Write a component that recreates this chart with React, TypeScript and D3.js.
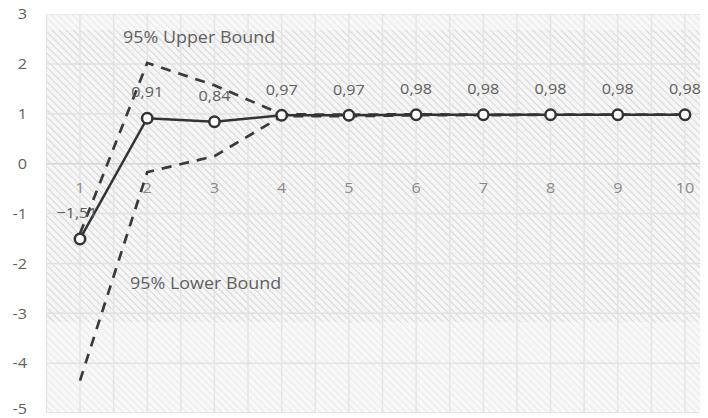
import React from "react";
import * as d3 from "d3";

const categories = [1, 2, 3, 4, 5, 6, 7, 8, 9, 10];
const estimate = [-1.51, 0.91, 0.84, 0.97, 0.97, 0.98, 0.98, 0.98, 0.98, 0.98];
const upperBound = [-1.4, 2.02, 1.57, 0.99, 0.98, 0.99, 0.98, 0.98, 0.98, 0.98];
const lowerBound = [-4.35, -0.17, 0.15, 0.95, 0.95, 0.97, 0.97, 0.98, 0.98, 0.98];
const yTicks = [3, 2, 1, 0, -1, -2, -3, -4, -5];
const upperLabel = "95% Upper Bound";
const lowerLabel = "95% Lower Bound";

const W = 708;
const H = 418;
const plotLeft = 46;
const plotRight = 700;
const font = "'Open Sans', 'Noto Sans', sans-serif";

function T(props: {
  x: number;
  y: number;
  anchor?: "start" | "middle" | "end";
  size?: number;
  fill?: string;
  sx?: number;
  children: React.ReactNode;
}) {
  const { x, y, anchor = "middle", size = 15, fill = "#5f5f5f", sx = 1.08, children } = props;
  return (
    <text
      transform={`translate(${x},${y}) scale(${sx},1)`}
      dy="0.35em"
      textAnchor={anchor}
      fontFamily={font}
      fontSize={size}
      fill={fill}
    >
      {children}
    </text>
  );
}

export default function App() {
  const x = d3.scaleLinear().domain([1, 10]).range([80, 685]);
  const y = d3.scaleLinear().domain([-5, 3]).range([413, 14]);
  const fmt = (v: number) => d3.format(".2f")(v).replace(".", ",");

  const line = d3
    .line<number>()
    .x((_, i) => x(categories[i]))
    .y((d) => y(d));

  const halfSteps = d3.range(0.5, 10.51, 0.5).map((v) => x(v)).filter((px) => px <= plotRight);
  const txt = "#5f5f5f";

  return (
    <svg width={W} height={H} style={{ position: "absolute", left: 0, top: 0, background: "#fff" }}>
      <defs>
        <pattern id="hatch" width="5" height="5" patternUnits="userSpaceOnUse" patternTransform="rotate(-45)">
          <rect width="5" height="5" fill="#f6f6f6" />
          <line x1="0" y1="0" x2="0" y2="5" stroke="#c8c8c8" strokeWidth="1.4" />
        </pattern>
        <pattern id="hatchLight" width="5" height="5" patternUnits="userSpaceOnUse" patternTransform="rotate(-45)">
          <rect width="5" height="5" fill="#f8f8f8" />
          <line x1="0" y1="0" x2="0" y2="5" stroke="#e0e0e0" strokeWidth="1.2" />
        </pattern>
        <clipPath id="plotClip">
          <rect x={plotLeft} y={y(3)} width={plotRight - plotLeft} height={y(-5) - y(3)} />
        </clipPath>
      </defs>

      <rect x={plotLeft} y={y(3)} width={plotRight - plotLeft} height={y(-5) - y(3)} fill="url(#hatch)" />
      <rect x={plotLeft} y={y(3)} width={plotRight - plotLeft} height={16} fill="url(#hatchLight)" />
      <rect x={plotLeft} y={y(-3.18)} width={plotRight - plotLeft} height={y(-5) - y(-3.18)} fill="url(#hatchLight)" />

      <g clipPath="url(#plotClip)">
        {halfSteps.map((px, i) => (
          <line key={"v" + i} x1={px} x2={px} y1={y(3)} y2={y(-5)} stroke="#e4e4e4" strokeWidth={1.5} />
        ))}
        {yTicks.map((t) => (
          <line key={"h" + t} x1={plotLeft} x2={plotRight} y1={y(t)} y2={y(t)} stroke="#e2e2e2" strokeWidth={1.5} />
        ))}
        <line x1={plotLeft} x2={plotRight} y1={y(0)} y2={y(0)} stroke="#d8d8d8" strokeWidth={1.5} />
      </g>

      {yTicks.map((t) => (
        <T key={"yl" + t} x={27} y={t === -5 ? y(t) - 4 : y(t)} anchor="end" fill={txt}>
          {t}
        </T>
      ))}

      {categories.map((c) => (
        <T key={"xl" + c} x={x(c)} y={y(0) + 24} fill="#8a8a8a">
          {c}
        </T>
      ))}

      <path d={line(upperBound) || ""} fill="none" stroke="#3a3a3a" strokeWidth={2.7} strokeDasharray="10 8" />
      <path d={line(lowerBound) || ""} fill="none" stroke="#3a3a3a" strokeWidth={2.7} strokeDasharray="10 8" />
      <path d={line(estimate) || ""} fill="none" stroke="#333" strokeWidth={2.5} />

      {estimate.map((v, i) => (
        <circle key={"c" + i} cx={x(categories[i])} cy={y(v)} r={5.2} fill="#fff" stroke="#333" strokeWidth={2.5} />
      ))}

      {estimate.map((v, i) => (
        <T key={"dl" + i} x={x(categories[i]) + (i === 0 ? -3 : 0)} y={y(v) - 26} fill={txt}>
          {fmt(v)}
        </T>
      ))}

      <T x={123} y={37} anchor="start" size={16} sx={1.12} fill={txt}>
        {upperLabel}
      </T>
      <T x={130} y={283} anchor="start" size={16} sx={1.12} fill={txt}>
        {lowerLabel}
      </T>
    </svg>
  );
}
